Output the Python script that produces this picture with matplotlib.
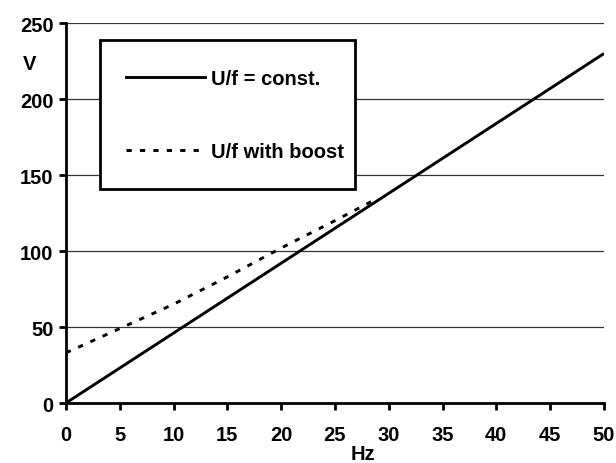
import numpy as np
import matplotlib
matplotlib.use('Agg')
import matplotlib.pyplot as plt
from matplotlib.patches import Rectangle
from matplotlib.lines import Line2D

## Data
freq_const = [0, 50]
volt_const = [0, 230]

freq_boost = [0, 5, 10, 15, 20, 25, 28.5]
volt_boost = [33, 49, 65, 83, 102, 120, 133]

x_ticks = [0, 5, 10, 15, 20, 25, 30, 35, 40, 45, 50]
y_ticks = [0, 50, 100, 150, 200, 250]
labels = ['U/f = const.', 'U/f with boost']

plt.rcParams['font.family'] = ['Liberation Sans', 'DejaVu Sans']
plt.rcParams['font.weight'] = 'bold'
FS = 14.5
LW = 2.1
DASH = (0, (1.8, 2.8))

fig = plt.figure(figsize=(6.16, 4.64), dpi=100)
ax = fig.add_axes([0.107, 0.1293, 0.8735, 0.8187])

ax.plot(freq_const, volt_const, color='black', lw=LW, solid_capstyle='butt', zorder=3)
ax.plot(freq_boost, volt_boost, color='black', lw=LW, linestyle=DASH, zorder=3)

ax.set_xlim(0, 50)
ax.set_ylim(0, 250)
ax.set_xticks(x_ticks)
ax.set_yticks(y_ticks)
ax.tick_params(axis='both', direction='out', length=5, width=2, labelsize=FS)
ax.tick_params(axis='y', pad=4)
ax.tick_params(axis='x', pad=11)
for lbl in ax.get_xticklabels() + ax.get_yticklabels():
    lbl.set_fontweight('bold')

for s in ['top', 'right']:
    ax.spines[s].set_visible(False)
for s in ['left', 'bottom']:
    ax.spines[s].set_linewidth(2)

for y in y_ticks[1:]:
    ax.axhline(y, color='#333333', lw=0.9, zorder=1)

## legend box drawn by hand so it sits where the original one is
box = Rectangle((0.063, 0.563), 0.474, 0.392, transform=ax.transAxes,
                facecolor='white', edgecolor='black', lw=2, zorder=4)
ax.add_patch(box)

handles = [Line2D([], [], color='black', lw=LW),
           Line2D([], [], color='black', lw=LW, linestyle=DASH)]
leg = ax.legend(handles, labels, loc='center left', bbox_to_anchor=(0.093, 0.758),
                frameon=False, borderpad=0, labelspacing=2.65, handlelength=3.9,
                handletextpad=0.3, prop={'size': FS, 'weight': 'bold'})
leg.set_zorder(5)

fig.text(30 / 616, 1 - 65 / 464, 'V', ha='center', va='center', fontsize=FS, fontweight='bold')
fig.text(363 / 616, 1 - 455 / 464, 'Hz', ha='center', va='center', fontsize=FS, fontweight='bold')

fig.savefig('out.png', dpi=100)
